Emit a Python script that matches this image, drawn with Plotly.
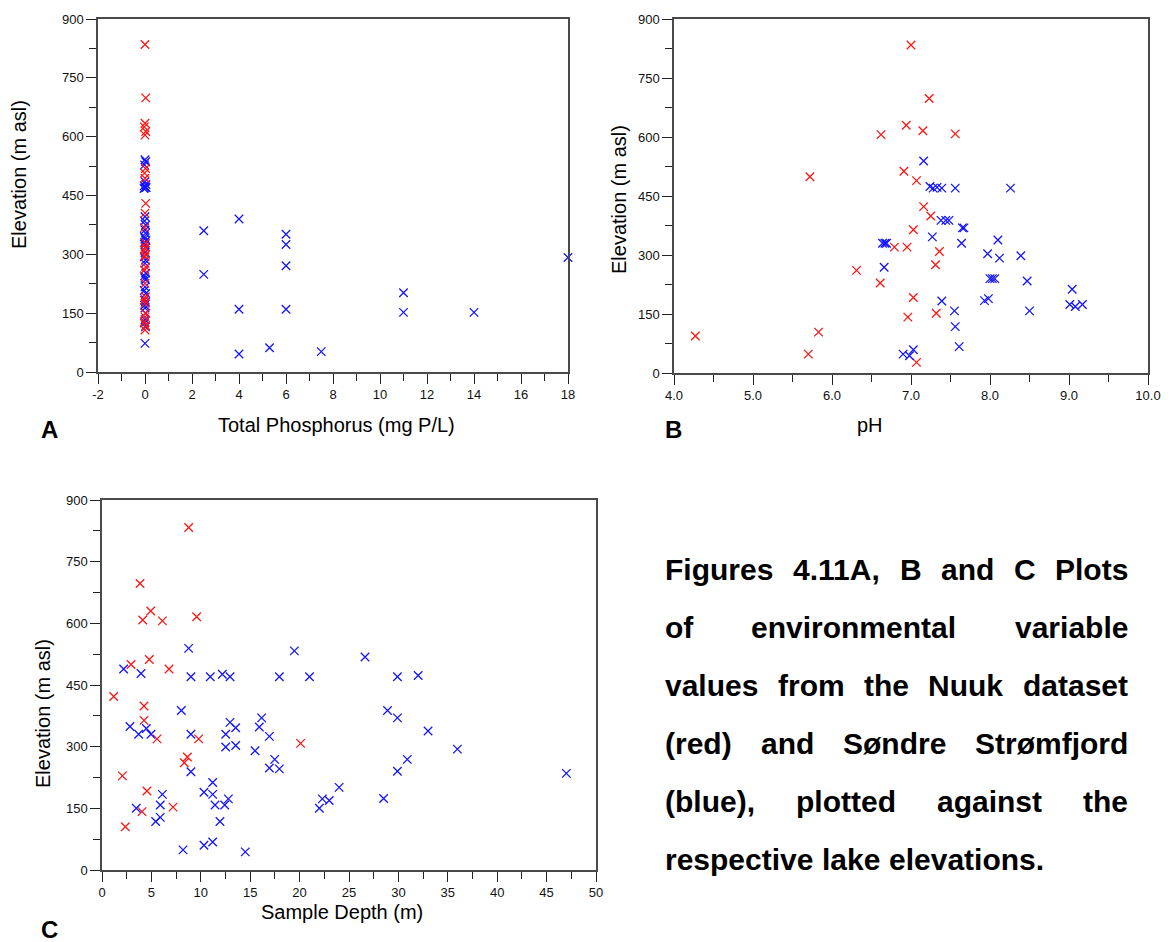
import plotly.graph_objects as go

# --- dados (elevacao em m asl) ---

# Painel A: fosforo total (mg P/L)
tp_red = [0, 0.03, 0, -0.03, 0.03, 0, 0.02, -0.02, 0, 0.03, 0, -0.02, 0.02, 0, -0.03, 0.02,
          0, 0.03, -0.02, 0, 0.02, -0.03, 0, 0.02, 0, -0.02, 0.03, 0]
elev_a_red = [835, 699, 634, 625, 613, 604, 519, 507, 494, 430, 405, 368, 329, 318, 310, 300,
              294, 268, 260, 226, 192, 183, 175, 150, 140, 128, 118, 107]

tp_blue = [0, 0.03, -0.02, 0, 0.04, -0.03, 0.02, 0, 0.05, -0.04, 0, -0.02, 0.03, 0,
           0.02, -0.03, 0, 0.04, -0.02, 0, 0.03, 0, -0.03, 0.02, 0, 0.03, -0.02, 0, 0.02,
           0, -0.03, 0.03, 0, 0.02, -0.02, 0, 0.03, 0, -0.02, 0.02, 0,
           2.5, 2.5, 4, 4, 4, 5.3, 6, 6, 6, 6, 7.5, 11, 11, 14, 18]
elev_a_blue = [541, 536, 528, 485, 478, 475, 472, 470, 470, 468, 396, 385, 375, 362,
               354, 345, 340, 335, 330, 325, 319, 305, 294, 285, 277, 252, 245, 240, 235,
               217, 208, 200, 184, 178, 170, 163, 150, 133, 125, 115, 73,
               360, 249, 390, 160, 46, 62, 351, 325, 271, 160, 52, 202, 152, 152, 292]
tp_ticks = [-2, 0, 2, 4, 6, 8, 10, 12, 14, 16, 18]
tp_tick_labels = ["-2", "0", "2", "4", "6", "8", "10", "12", "14", "16", "18"]

# Painel B: pH
ph_red = [7.00, 7.23, 6.94, 7.15, 6.62, 7.56, 6.91, 7.07, 7.16, 7.25, 7.03, 6.79, 6.95,
          7.36, 7.31, 6.31, 6.61, 7.03, 7.32, 6.96, 7.07, 4.27, 5.72, 5.83, 5.70]
elev_b_red = [834, 698, 630, 616, 606, 608, 513, 489, 423, 399, 364, 320, 320,
              309, 275, 261, 229, 192, 152, 142, 27, 94, 499, 104, 48]

ph_blue = [7.16, 7.24, 7.28, 7.33, 7.39, 7.56, 8.26, 7.38, 7.44, 7.48, 7.65, 7.67, 7.27,
           6.64, 6.67, 6.69, 7.64, 8.10, 7.97, 8.12, 8.39, 6.66, 8.00, 8.03, 8.06, 8.47,
           7.93, 7.98, 9.04, 9.01, 9.08, 9.17, 7.39, 8.50, 7.55, 7.56, 7.61, 6.90, 6.98, 7.03]
elev_b_blue = [539, 474, 470, 472, 470, 470, 470, 388, 388, 388, 369, 369, 346,
               330, 330, 330, 330, 338, 303, 292, 298, 269, 240, 240, 240, 234,
               184, 189, 213, 174, 169, 174, 183, 158, 158, 118, 67, 48, 44, 59]

# Painel C: profundidade da amostra (m)
depth_red = [8.77, 3.85, 4.93, 4.12, 6.11, 9.58, 4.79, 2.94, 6.78, 1.18, 4.25, 4.25,
             5.57, 9.78, 20.1, 8.64, 8.33, 2.06, 4.55, 7.19, 4.05, 2.36]
elev_c_red = [833, 697, 630, 608, 606, 616, 512, 500, 489, 422, 399, 364,
              319, 319, 308, 275, 261, 229, 192, 153, 142, 105]

depth_blue = [2.19, 3.95, 8.77, 9.0, 10.96, 12.18, 12.96, 17.95, 19.47, 21.0,
              8.03, 2.83, 3.71, 4.49, 4.96, 9.0, 12.96, 12.52, 13.53, 12.52,
              13.53, 16.16, 15.92, 16.94, 15.49, 17.48, 16.94, 17.95, 9.0, 11.2,
              10.32, 11.2, 6.11, 5.9, 11.44, 12.42, 12.79, 3.47, 5.43, 5.9,
              11.94, 8.2, 10.32, 11.2, 14.5, 22.0, 22.3, 26.62, 29.9, 32.0,
              28.9, 29.9, 33.0, 35.97, 30.9, 29.9, 47.0, 24.0, 23.0, 28.5]
elev_c_blue = [489, 478, 539, 470, 470, 476, 470, 470, 533, 470,
               388, 349, 330, 344, 330, 330, 359, 330, 346, 299,
               303, 370, 348, 325, 290, 269, 248, 246, 239, 213,
               189, 184, 184, 158, 158, 158, 173, 150, 118, 128,
               118, 49, 60, 68, 44, 150, 173, 518, 470, 473,
               388, 370, 338, 294, 269, 240, 235, 201, 169, 174]

caption_lines = [
    "Figures 4.11A, B and C Plots",
    "of environmental variable",
    "values from the Nuuk dataset",
    "(red) and Søndre Strømfjord",
    "(blue), plotted against the",
    "respective lake elevations.",
]

# a pagina html tem margem de 8px no body; a figura ocupa o resto da janela
PAGE_W, PAGE_H, BODY = 1174, 942, 8
W, H = PAGE_W - BODY, PAGE_H - BODY
RED = "#ff1414"
BLUE = "#1414ff"
FONT = "Liberation Sans, Arial, sans-serif"


def px_x(px):
    return (px - BODY) / W


def px_y(py):
    return 1 - (py - BODY) / H


def scatter(x, y, color, ax):
    return go.Scatter(
        x=x, y=y, mode="markers", xaxis=ax[0], yaxis=ax[1], cliponaxis=False,
        marker=dict(symbol="x-thin", size=8.5, line=dict(width=1.3, color=color)),
        hoverinfo="x+y",
    )


fig = go.Figure()
fig.add_trace(scatter(tp_blue, elev_a_blue, BLUE, ("x", "y")))
fig.add_trace(scatter(tp_red, elev_a_red, RED, ("x", "y")))
fig.add_trace(scatter(ph_red, elev_b_red, RED, ("x2", "y2")))
fig.add_trace(scatter(ph_blue, elev_b_blue, BLUE, ("x2", "y2")))
fig.add_trace(scatter(depth_red, elev_c_red, RED, ("x3", "y3")))
fig.add_trace(scatter(depth_blue, elev_c_blue, BLUE, ("x3", "y3")))


def axis(domain, rng, dtick, minor, anchor, fmt=None, tick0=None):
    d = dict(
        domain=domain, range=rng, dtick=dtick, anchor=anchor, automargin=False,
        showgrid=False, zeroline=False, showline=True, mirror=True,
        linecolor="#4a4a4a", linewidth=1.5,
        ticks="outside", ticklen=10, tickwidth=1.2, tickcolor="#222",
        tickfont=dict(family=FONT, size=13, color="#111"),
        minor=dict(dtick=minor, ticks="outside", ticklen=7, tickwidth=1.2,
                   tickcolor="#222", showgrid=False),
    )
    if fmt:
        d["tickformat"] = fmt
    if tick0 is not None:
        d["tick0"] = tick0
    return d


# dominios em pixels (da pagina) convertidos para fracao do papel
dom_a_x = [px_x(98), px_x(568)]
dom_a_y = [px_y(372), px_y(19)]
dom_b_x = [px_x(674), px_x(1148)]
dom_b_y = [px_y(373), px_y(19)]
dom_c_x = [px_x(102), px_x(596)]
dom_c_y = [px_y(870), px_y(500)]

xaxis_a = axis(dom_a_x, [-2, 18], 2, 1, "y", tick0=-2)
xaxis_a.update(tickmode="array", tickvals=tp_ticks, ticktext=tp_tick_labels)

fig.update_layout(
    width=W, height=H,
    margin=dict(l=0, r=0, t=0, b=0, autoexpand=False),
    paper_bgcolor="white", plot_bgcolor="white",
    showlegend=False,
    xaxis=xaxis_a,
    yaxis=axis(dom_a_y, [0, 900], 150, 75, "x"),
    xaxis2=axis(dom_b_x, [4, 10], 1, 0.5, "y2", fmt=".1f"),
    yaxis2=axis(dom_b_y, [0, 900], 150, 75, "x2"),
    xaxis3=axis(dom_c_x, [0, 50], 5, 2.5, "y3"),
    yaxis3=axis(dom_c_y, [0, 900], 150, 75, "x3"),
)

annotations = []


def label(text, x, y, size, bold=False, angle=0, xanchor="center"):
    annotations.append(dict(
        text=f"<b>{text}</b>" if bold else text,
        x=px_x(x), y=px_y(y), xref="paper", yref="paper",
        xanchor=xanchor, yanchor="middle", showarrow=False, textangle=angle,
        font=dict(family=FONT, size=size, color="black"),
    ))


# titulos dos eixos
label("Total Phosphorus (mg P/L)", 336, 425, 20)
label("pH", 870, 425, 20)
label("Sample Depth (m)", 342, 912, 20)
label("Elevation (m asl)", 19, 175, 20, angle=-90)
label("Elevation (m asl)", 619, 200, 20, angle=-90)
label("Elevation (m asl)", 43, 714, 20, angle=-90)

# letras dos paineis
label("A", 49, 429, 24, bold=True)
label("B", 673, 429, 24, bold=True)
label("C", 49, 929, 24, bold=True)

# legenda justificada (cada palavra posicionada a partir da largura Arial Bold)
BOLD_W = {
    " ": 278, "(": 333, ")": 333, ",": 278, ".": 278,
    "A": 722, "B": 722, "C": 722, "F": 611, "N": 722, "P": 667, "S": 667,
    "a": 556, "b": 611, "c": 556, "d": 611, "e": 556, "f": 333, "g": 611,
    "h": 611, "i": 278, "j": 278, "k": 556, "l": 278, "m": 889, "n": 611,
    "o": 611, "p": 611, "r": 389, "s": 556, "t": 333, "u": 611, "v": 556,
    "ø": 611, "y": 556,
}
CAP_SIZE = 30
CAP_LEFT, CAP_RIGHT = 665, 1128
cap_y = [569, 627, 685, 743, 801, 859]


def word_width(word):
    return sum(BOLD_W.get(ch, 556) for ch in word) * CAP_SIZE / 1000


for i, line in enumerate(caption_lines):
    words = line.split(" ")
    widths = [word_width(w) for w in words]
    if i == len(caption_lines) - 1:
        gap = BOLD_W[" "] * CAP_SIZE / 1000
    else:
        gap = (CAP_RIGHT - CAP_LEFT - sum(widths)) / (len(words) - 1)
    x = CAP_LEFT
    for w, wd in zip(words, widths):
        label(w, x + wd / 2, cap_y[i], CAP_SIZE, bold=True)
        x += wd + gap

fig.update_layout(annotations=annotations)

fig.write_html("out.html")
